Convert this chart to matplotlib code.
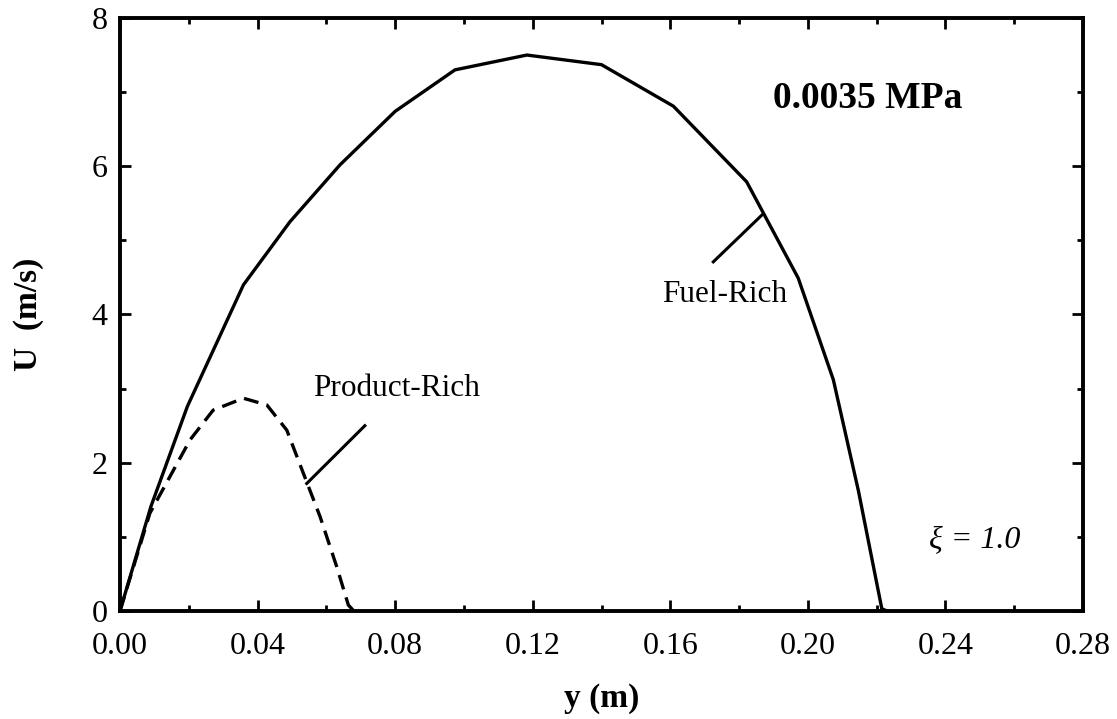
import numpy as np
import matplotlib
matplotlib.use("Agg")
import matplotlib.pyplot as plt
from matplotlib.ticker import MultipleLocator

# fuel-rich profile (solid)
fuel_y = [0.0, 0.009, 0.0196, 0.0359, 0.0494, 0.064, 0.080, 0.0974, 0.1183,
          0.140, 0.1609, 0.1822, 0.1972, 0.2074, 0.2147, 0.2215, 0.223]
fuel_u = [0.0, 1.41, 2.76, 4.40, 5.25, 6.02, 6.74, 7.30, 7.50,
          7.37, 6.81, 5.79, 4.49, 3.12, 1.62, 0.03, 0.0]

# product-rich profile (dashed)
prod_y = [0.0, 0.0087, 0.0204, 0.0271, 0.0359, 0.0427, 0.0485, 0.0533,
          0.0582, 0.063, 0.0664, 0.068]
prod_u = [0.0, 1.32, 2.31, 2.71, 2.87, 2.78, 2.44, 1.86,
          1.27, 0.60, 0.08, 0.0]

x_ticks = [0.00, 0.04, 0.08, 0.12, 0.16, 0.20, 0.24, 0.28]
y_ticks = [0, 2, 4, 6, 8]

plt.rcParams['font.family'] = ['Liberation Serif', 'DejaVu Serif']

fig = plt.figure(figsize=(11.17, 7.19), dpi=100)
ax = fig.add_axes([0.1074, 0.1502, 0.8622, 0.8248])

ax.plot(fuel_y, fuel_u, color='black', lw=2.4, solid_joinstyle='miter')
ax.plot(prod_y, prod_u, color='black', lw=2.4, dashes=(4.5, 2.5))

ax.set_xlim(0, 0.28)
ax.set_ylim(0, 8)
ax.set_xticks(x_ticks)
ax.set_xticklabels(["%.2f" % v for v in x_ticks])
ax.set_yticks(y_ticks)
ax.xaxis.set_minor_locator(MultipleLocator(0.02))
ax.yaxis.set_minor_locator(MultipleLocator(1))

ax.tick_params(which='both', direction='in', top=True, right=True,
               width=2.0, labelsize=23)
ax.tick_params(which='major', length=8)
ax.tick_params(which='minor', length=4)
ax.tick_params(axis='x', which='major', pad=15)
ax.tick_params(axis='y', which='major', pad=9)
for s in ax.spines.values():
    s.set_linewidth(2.8)

ax.set_xlabel("y (m)", fontsize=24, fontweight='bold', labelpad=16)
ax.set_ylabel("U  (m/s)", fontsize=24, fontweight='bold', labelpad=34)

# annotations
ax.text(0.2174, 6.92, "0.0035 MPa", fontsize=27, fontweight='bold',
        ha='center', va='center')
ax.text(0.2486, 0.96, "ξ = 1.0", fontsize=23, style='italic',
        ha='center', va='center')
ax.text(0.0805, 3.0, "Product-Rich", fontsize=22.5, ha='center', va='center')
ax.plot([0.0712, 0.0543], [2.50, 1.72], color='black', lw=2.2)
ax.text(0.1757, 4.27, "Fuel-Rich", fontsize=22.5, ha='center', va='center')
ax.plot([0.1725, 0.1866], [4.71, 5.34], color='black', lw=2.2)

fig.savefig("out.png", dpi=100)
